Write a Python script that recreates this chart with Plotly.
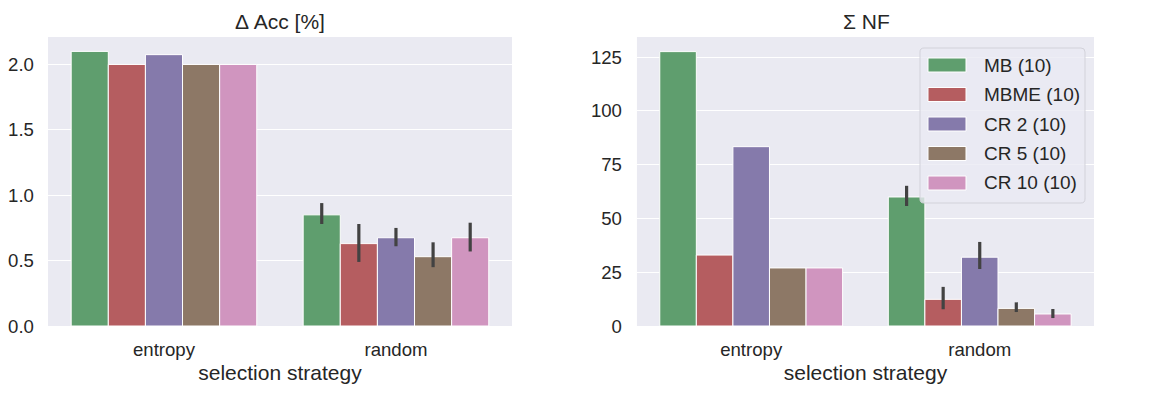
import plotly.graph_objects as go
from plotly.subplots import make_subplots

# %% Data
strategies = ["entropy", "random"]
methods = ["MB (10)", "MBME (10)", "CR 2 (10)", "CR 5 (10)", "CR 10 (10)"]
colors = ["#5F9E6E", "#B55D60", "#857AAB", "#8D7866", "#D095BF"]

# delta accuracy [%], per method: entropy, random
acc_entropy = [2.10, 2.00, 2.075, 2.00, 2.00]
acc_random = [0.85, 0.63, 0.675, 0.53, 0.675]
acc_random_lo = [0.78, 0.49, 0.61, 0.45, 0.57]
acc_random_hi = [0.94, 0.78, 0.75, 0.64, 0.79]

# sum of NF
nf_entropy = [127.6, 33.0, 83.4, 27.0, 27.0]
nf_random = [60.0, 12.4, 32.0, 8.2, 5.6]
nf_random_lo = [55.8, 7.8, 26.5, 6.5, 3.7]
nf_random_hi = [65.2, 18.2, 39.1, 11.0, 7.9]

# %% Figure
W, H = 1169, 395
fig = make_subplots(rows=1, cols=2)

def add_panel(col, ent, rnd, lo, hi):
    for i, m in enumerate(methods):
        fig.add_trace(go.Bar(
            x=strategies, y=[ent[i], rnd[i]], name=m,
            marker=dict(color=colors[i], line=dict(color="white", width=1)),
            error_y=dict(type="data", symmetric=False,
                         array=[None, hi[i] - rnd[i]],
                         arrayminus=[None, rnd[i] - lo[i]],
                         color="#424242", thickness=3.2, width=0),
            showlegend=False, legendgroup=m,
        ), row=1, col=col)

add_panel(1, acc_entropy, acc_random, acc_random_lo, acc_random_hi)
add_panel(2, nf_entropy, nf_random, nf_random_lo, nf_random_hi)

font = "Liberation Sans, Arial, sans-serif"
axis_common = dict(zeroline=False, showline=False, ticks="", automargin=False,
                   tickfont=dict(size=18.6, color="#262626"))
xtitle = dict(text="selection strategy", font=dict(size=21), standoff=6)

fig.update_layout(
    width=W, height=H,
    margin=dict(l=0, r=0, t=0, b=0),
    paper_bgcolor="white", plot_bgcolor="#EAEAF2",
    font=dict(family=font, color="#262626"),
    barmode="group", bargap=0.2, bargroupgap=0,
    xaxis=dict(domain=[0.0342, 0.4311], range=[-0.5, 1.5], showgrid=False,
               title=xtitle, ticklabelstandoff=10, **axis_common),
    xaxis2=dict(domain=[0.538, 0.929], range=[-0.5, 1.5], showgrid=False,
                title=xtitle, ticklabelstandoff=10, **axis_common),
    yaxis=dict(domain=[0.1949, 0.9266], range=[0, 2.21], tickvals=[0, 0.5, 1.0, 1.5, 2.0],
               tickformat=".1f", ticklabelstandoff=13, showgrid=True, gridcolor="white",
               gridwidth=1.3, **axis_common),
    yaxis2=dict(domain=[0.1949, 0.9266], range=[0, 134.4], tickvals=[0, 25, 50, 75, 100, 125],
                ticklabelstandoff=14, showgrid=True, gridcolor="white", gridwidth=1.3,
                **axis_common),
)

# panel titles
fig.add_annotation(text="Δ Acc [%]", x=0.2327, y=1 - 14 / H, xref="paper", yref="paper",
                   xanchor="center", yanchor="middle", showarrow=False,
                   font=dict(size=21, color="#262626"))
fig.add_annotation(text="Σ NF", x=0.734, y=1 - 14 / H, xref="paper", yref="paper",
                   xanchor="center", yanchor="middle", showarrow=False,
                   font=dict(size=21, color="#262626"))

# legend (seaborn style, wide patches) in pixel positions of the figure
lx0, lx1, ly0, ly1 = 912, 1077, 40, 195
r = 4
box = (f"M {lx0 + r},{ly0} L {lx1 - r},{ly0} Q {lx1},{ly0} {lx1},{ly0 + r} "
       f"L {lx1},{ly1 - r} Q {lx1},{ly1} {lx1 - r},{ly1} L {lx0 + r},{ly1} "
       f"Q {lx0},{ly1} {lx0},{ly1 - r} L {lx0},{ly0 + r} Q {lx0},{ly0} {lx0 + r},{ly0} Z")
# convert pixel path to paper coords
def px2paper(path):
    out = []
    for tok in path.split():
        if "," in tok:
            a, b = tok.split(",")
            out.append(f"{float(a) / W:.5f},{1 - float(b) / H:.5f}")
        else:
            out.append(tok)
    return " ".join(out)

fig.add_shape(type="path", path=px2paper(box), xref="paper", yref="paper", layer="above",
              fillcolor="rgba(234,234,242,0.8)", line=dict(color="#D2D2DA", width=1))
for i, m in enumerate(methods):
    yc = 57 + i * 29.5
    fig.add_shape(type="rect", xref="paper", yref="paper", layer="above",
                  x0=920 / W, x1=958 / W, y0=1 - (yc - 7) / H, y1=1 - (yc + 7) / H,
                  fillcolor=colors[i], line=dict(color="white", width=1))
    fig.add_annotation(text=m, x=974 / W, y=1 - yc / H, xref="paper", yref="paper",
                       xanchor="left", yanchor="middle", showarrow=False,
                       font=dict(size=19, color="#262626"))

fig.write_html("out.html")
